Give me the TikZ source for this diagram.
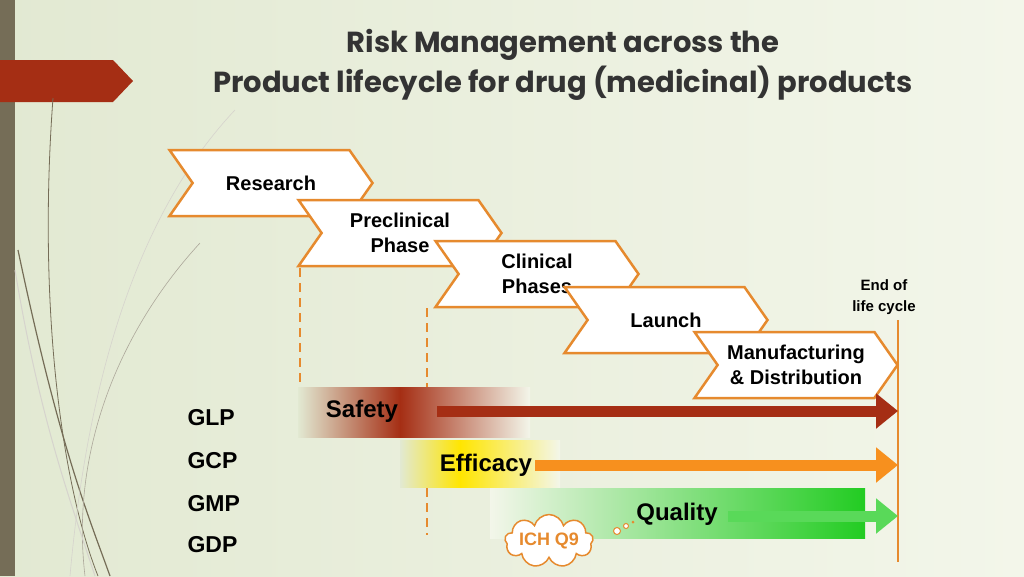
\documentclass[tikz,border=0pt]{standalone}
\usepackage{fontspec}
\setmainfont{Liberation Sans}
\newfontfamily\titlefont{Poppins}
\usetikzlibrary{shapes.symbols,arrows.meta}
\definecolor{bgleft}{HTML}{E2E9D2}
\definecolor{bgright}{HTML}{F3F6EA}
\definecolor{barcol}{HTML}{756D57}
\definecolor{rust}{HTML}{A52E14}
\definecolor{orng}{HTML}{E68A2E}
\definecolor{arrorange}{HTML}{F7901E}
\definecolor{grn}{HTML}{22CC22}
\tikzset{
  phase/.style={signal, signal from=west, signal to=east, signal pointer angle=110,
    draw=orng, line width=2.5pt, fill=white, minimum width=203pt, minimum height=66pt,
    font=\bfseries\fontsize{20}{25}\selectfont, align=center},
  gx/.style={font=\bfseries\fontsize{23}{25}\selectfont, anchor=west},
  band/.style={font=\bfseries\fontsize{24}{26}\selectfont},
  riskarrow/.style={line width=11pt, -{Triangle[width=34pt,length=22pt]}},
}
\begin{document}
\begin{tikzpicture}[x=1pt,y=-1pt]
	\useasboundingbox (0,0) rectangle (1024,576);
	% background
	\shade[left color=bgleft, right color=bgright] (0,0) rectangle (1024,576);
	\fill[barcol] (0,0) rectangle (15,576);
	\fill[rust] (0,60) -- (113,60) -- (133,81) -- (113,102) -- (0,102) -- cycle;
	\draw[barcol, line width=1.2pt] (18,250) .. controls (60,450) and (90,520) .. (110,576);
	\draw[barcol, line width=0.8pt] (53,98) .. controls (38,300) and (60,480) .. (98,576);
	\draw[barcol!60, line width=0.6pt] (200,243) .. controls (120,330) and (70,450) .. (85,576);
	\draw[barcol!30, line width=0.6pt] (235,110) .. controls (150,200) and (90,350) .. (70,576);
	\draw[barcol!30, line width=1pt] (15,270) .. controls (40,420) and (70,500) .. (95,576);

	% title
	\node[font=\titlefont\bfseries\fontsize{29}{40}\selectfont, align=center, text=black!80] (title) at (563,65)
		{Risk Management across the\\Product lifecycle for drug (medicinal) products};

	% phases
	\node[phase] (research) at (271,183) {Research};
	\node[phase] (preclin) at (400,233) {Preclinical\\Phase};
	\node[phase] (clinical) at (537,274) {Clinical\\Phases};
	\node[phase] (launch) at (666,320) {Launch};
	\node[phase] (manuf) at (796,365) {Manufacturing\\\& Distribution};
	\node[font=\bfseries\fontsize{15}{21}\selectfont, align=center] (eol) at (884,297) {End of\\life cycle};

	% milestones
	\draw[orng, line width=2pt, dash pattern=on 9pt off 6pt] (300,268) -- (300,437);
	\draw[orng, line width=2pt, dash pattern=on 9pt off 6pt] (427,308) -- (427,535);
	\draw[orng, line width=2pt] (898,320) -- (898,562);

	% safety
	\shade[left color=bgleft, right color=rust] (298,387) rectangle (400,437);
	\shade[left color=rust, right color=bgright] (400,387) rectangle (530,437);
	\draw[riskarrow, rust] (437,411) -- (898,411);
	\node[band] (safety) at (362,411) {Safety};

	% efficacy
	\shade[left color=bgleft, right color=yellow!80!orange] (400,440) rectangle (460,487);
	\shade[left color=yellow!80!orange, right color=bgright] (460,440) rectangle (560,487);
	\draw[riskarrow, arrorange] (535,465) -- (898,465);
	\node[band] (efficacy) at (486,465) {Efficacy};

	% quality
	\shade[left color=bgright, right color=grn] (490,488) rectangle (865,538);
	\draw[riskarrow, grn!75!white] (728,516) -- (898,516);
	\node[band] (quality) at (677,514) {Quality};
	\node[cloud, cloud puffs=9, aspect=2.6, draw=orng, line width=1.5pt, fill=white,
		text=orng, font=\bfseries\fontsize{18}{20}\selectfont, inner sep=0pt] (ich) at (549,541) {ICH Q9};
	\draw[orng, fill=white, line width=1pt] (617,531) circle (3.5);
	\draw[orng, fill=white, line width=1pt] (626,526) circle (2.5);
	\fill[orng] (633,522) circle (1.5);

	% practices
	\node[gx] (glp) at (184,418) {GLP};
	\node[gx] (gcp) at (184,461) {GCP};
	\node[gx] (gmp) at (184,504) {GMP};
	\node[gx] (gdp) at (184,545) {GDP};
\end{tikzpicture}
\end{document}
